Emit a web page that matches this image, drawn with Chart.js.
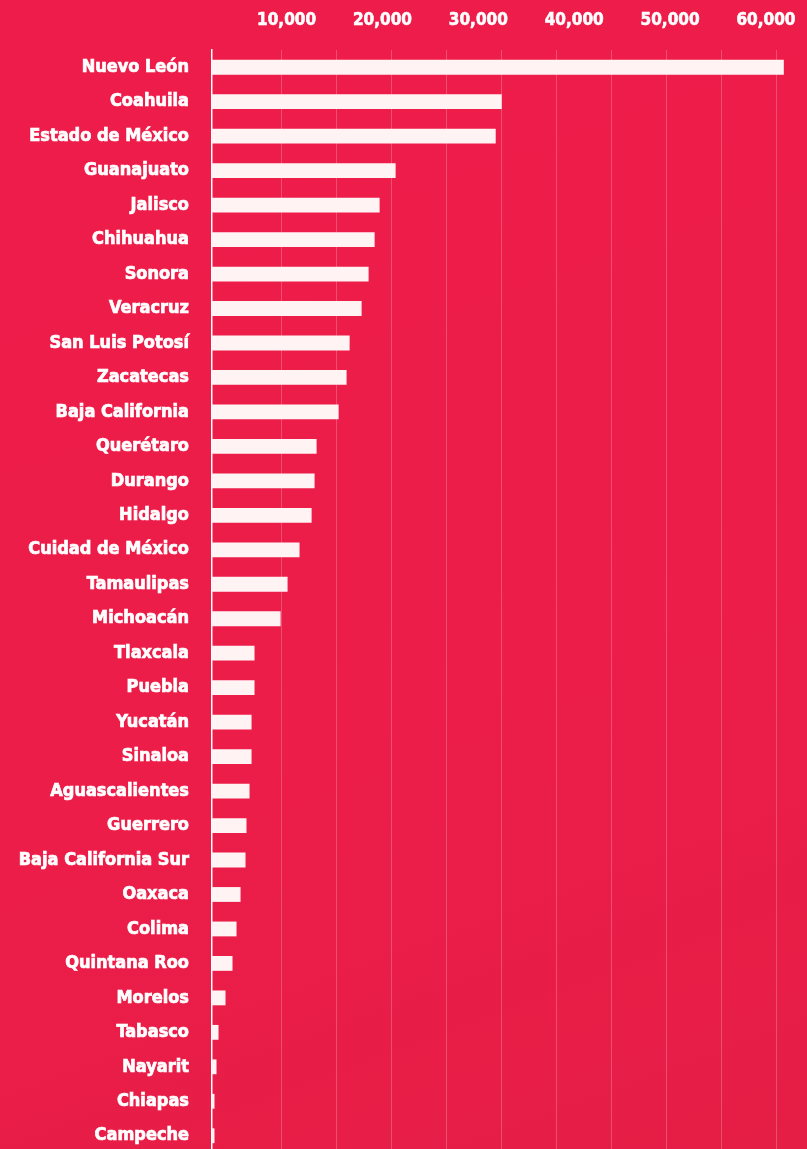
<!DOCTYPE html>
<html>
<head>
<meta charset="utf-8">
<script src="https://cdn.jsdelivr.net/npm/chart.js@4.4.1/dist/chart.umd.min.js"></script>
<style>
  html, body { margin: 0; padding: 0; overflow: hidden; width: 807px; height: 1149px; }
  body { background: linear-gradient(160deg, #EE1C4A 0%, #EC1D49 60%, #E51E46 100%); }
  #wrap { position: absolute; left: 0; top: 0; width: 807px; height: 1153px; }
</style>
</head>
<body>
<div id="wrap"><canvas id="c" width="807" height="1153"></canvas></div>
<script>
const states = [
  "Nuevo León", "Coahuila", "Estado de México", "Guanajuato", "Jalisco",
  "Chihuahua", "Sonora", "Veracruz", "San Luis Potosí", "Zacatecas",
  "Baja California", "Querétaro", "Durango", "Hidalgo", "Cuidad de México",
  "Tamaulipas", "Michoacán", "Tlaxcala", "Puebla", "Yucatán",
  "Sinaloa", "Aguascalientes", "Guerrero", "Baja California Sur", "Oaxaca",
  "Colima", "Quintana Roo", "Morelos", "Tabasco", "Nayarit",
  "Chiapas", "Campeche"
];
const values = [
  59700, 30250, 29620, 19170, 17500,
  16980, 16350, 15620, 14370, 14050,
  13220, 10920, 10710, 10400, 9140,
  7890, 7160, 4440, 4440, 4130,
  4130, 3920, 3600, 3500, 2980,
  2560, 2140, 1410, 680, 470,
  260, 260
];
const tickLabels = [10000, 20000, 30000, 40000, 50000, 60000];
const gridSteps = [1, 2, 3, 4, 5, 6, 7, 8, 9, 10];

const FONT = "'Liberation Sans Narrow', 'DejaVu Sans Condensed', Roboto, sans-serif";

function noPad(s) {
  s.paddingLeft = 0; s.paddingRight = 0; s.paddingTop = 0; s.paddingBottom = 0;
}

new Chart(document.getElementById('c'), {
  type: 'bar',
  data: {
    labels: states,
    datasets: [{
      data: values,
      backgroundColor: '#FFF3F4',
      borderWidth: 0,
      categoryPercentage: 1,
      barPercentage: 0.43
    }]
  },
  options: {
    indexAxis: 'y',
    responsive: false,
    animation: false,
    devicePixelRatio: 1,
    layout: { padding: 0 },
    plugins: { legend: { display: false }, tooltip: { enabled: false } },
    scales: {
      x: {
        type: 'linear',
        position: 'bottom',
        min: 0,
        max: 62120,
        display: false,
        afterFit: noPad
      },
      xt: {
        type: 'linear',
        axis: 'x',
        position: 'top',
        min: 2223,
        max: 64280,
        grid: { display: false, drawTicks: false },
        border: { display: false },
        afterBuildTicks: (s) => { s.ticks = tickLabels.map(v => ({ value: v })); },
        afterFit: (s) => { s.height = 50; noPad(s); },
        ticks: {
          padding: 19,
          color: '#FFFFFF',
          maxRotation: 0,
          textStrokeColor: '#FFFFFF',
          textStrokeWidth: 0.6,
          font: { family: FONT, size: 17, weight: 'bold' },
          callback: (v) => v.toLocaleString('en-US')
        }
      },
      xg: {
        type: 'linear',
        axis: 'x',
        position: 'top',
        min: -0.2545,
        max: 10.5545,
        afterBuildTicks: (s) => { s.ticks = gridSteps.map(v => ({ value: v })); },
        afterFit: (s) => { s.height = 0; noPad(s); },
        grid: { display: true, drawTicks: false, color: 'rgba(255,255,255,0.22)', lineWidth: 1 },
        border: { display: false },
        ticks: { display: false }
      },
      y: {
        afterFit: (s) => { s.width = 212; noPad(s); },
        grid: { display: false, drawTicks: false },
        border: { display: true, color: '#FFFFFF', width: 1.5 },
        ticks: {
          padding: 23,
          color: '#FFFFFF',
          autoSkip: false,
          textStrokeColor: '#FFFFFF',
          textStrokeWidth: 0.7,
          font: { family: FONT, size: 18, weight: 'bold' }
        }
      }
    }
  }
});
</script>
</body>
</html>
